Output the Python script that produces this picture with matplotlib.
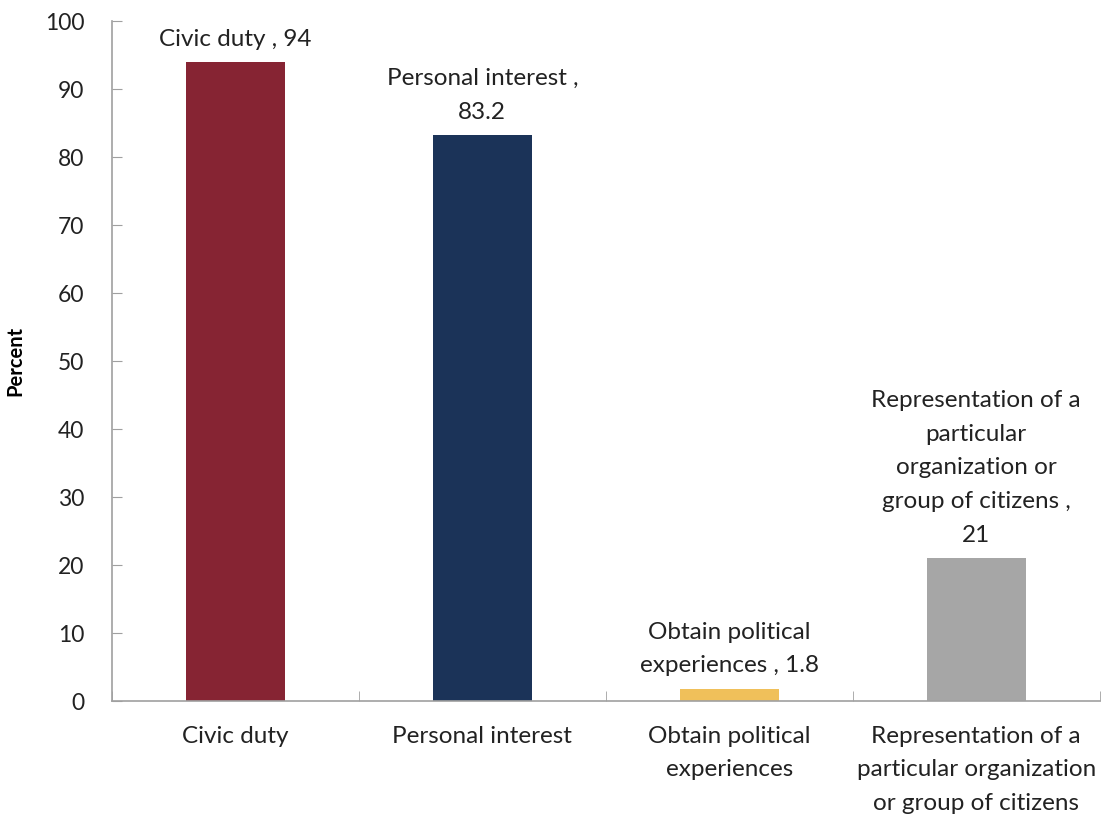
import matplotlib.pyplot as plt
import numpy as np

plt.rcParams['font.family'] = ['Lato', 'DejaVu Sans']

categories = ['Civic duty', 'Personal interest', 'Obtain political\nexperiences',
              'Representation of a\nparticular organization\nor group of citizens']
values = [94, 83.2, 1.8, 21]
bar_labels = ['Civic duty , 94', 'Personal interest ,\n83.2', 'Obtain political\nexperiences , 1.8',
              'Representation of a\nparticular\norganization or\ngroup of citizens ,\n21']
colors = ['#862433', '#1b3358', '#f0c05a', '#a6a6a6']

fig = plt.figure(figsize=(11.11, 8.18), dpi=100)
ax = fig.add_axes([0.1008, 0.143, 0.889, 0.831])

x = np.arange(len(categories))
bars = ax.bar(x, values, width=0.4, color=colors)

# data labels above each bar
for xi, v, lab in zip(x, values, bar_labels):
    ax.annotate(lab, (xi, v), xytext=(0, 9), textcoords='offset points',
                ha='center', va='bottom', fontsize=17.5, color='#222222', linespacing=1.75)

ax.set_xlim(-0.5, 3.5)
ax.set_ylim(0, 100)
ax.set_yticks(range(0, 101, 10))
ax.set_xticks(x)
ax.set_xticklabels(categories, fontsize=17.5, color='#222222', linespacing=1.72)
ax.set_xticks(np.arange(-0.5, 4, 1), minor=True)
ax.tick_params(axis='x', which='major', length=0, pad=18)
ax.tick_params(axis='x', which='minor', direction='in', length=7, color='#a0a0a0')
ax.tick_params(axis='y', direction='in', length=7, color='#a0a0a0', labelsize=16.5,
               labelcolor='#222222', pad=20)

for side in ['top', 'right']:
    ax.spines[side].set_visible(False)
for side in ['left', 'bottom']:
    ax.spines[side].set_color('#a0a0a0')
    ax.spines[side].set_linewidth(1.2)

ax.set_ylabel('Percent', fontsize=14.5, fontweight='bold')
ax.yaxis.set_label_coords(-0.088, 0.5)

fig.savefig('out.png')
